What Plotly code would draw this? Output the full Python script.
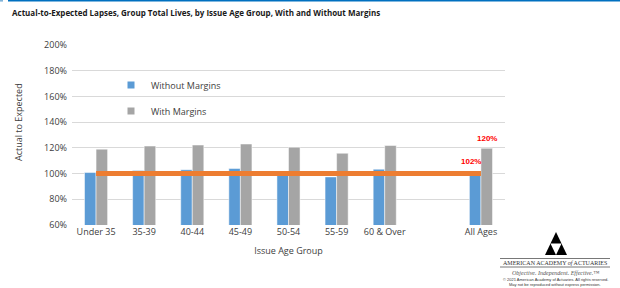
import plotly.graph_objects as go

categories = ["Under 35", "35-39", "40-44", "45-49", "50-54", "55-59", "60 & Over", " ", "All Ages"]
without_margins = [100.8, 102.3, 103.0, 103.9, 101.8, 97.4, 103.4, None, 101.8]
with_margins = [119.0, 121.4, 122.2, 123.0, 120.5, 115.8, 121.8, None, 119.7]
expected_line = [100, 100, 100, 100, 100, 100, 100, 100, 100]
label_without = ["", "", "", "", "", "", "", "", "102%"]
label_with = ["", "", "", "", "", "", "", "", "120%"]
y_ticks = [60, 80, 100, 120, 140, 160, 180, 200]
y_tick_labels = ["60%", "80%", "100%", "120%", "140%", "160%", "180%", "200%"]

W, H = 620, 288
L, R, T, B = 72, 115, 45, 63
PW, PH = W - L - R, H - T - B

def px(x):
    return (x - L) / PW

def py(y):
    return (H - B - y) / PH

BLUE = "#5B9BD5"
GRAY = "#A5A5A5"
ORANGE = "#ED7D31"
FONT = "Open Sans"

label_font = dict(color="#FF0000", size=8, family="Liberation Sans", weight="bold")

fig = go.Figure()
fig.add_trace(go.Bar(x=categories, y=without_margins, marker=dict(color=BLUE, line=dict(color="white", width=0.5)),
                     showlegend=False, name="Without Margins"))
fig.add_trace(go.Bar(x=categories, y=with_margins, marker=dict(color=GRAY, line=dict(color="white", width=0.5)),
                     showlegend=False, name="With Margins"))
fig.add_trace(go.Scatter(x=categories, y=expected_line, mode="lines", line=dict(color=ORANGE, width=5),
                         showlegend=False, hoverinfo="skip"))
# legend entries
fig.add_trace(go.Scatter(x=[None], y=[None], mode="markers", name="Without Margins",
                         marker=dict(symbol="square", size=7, color=BLUE), legend="legend"))
fig.add_trace(go.Scatter(x=[None], y=[None], mode="markers", name="With Margins",
                         marker=dict(symbol="square", size=7, color=GRAY), legend="legend2"))

legend_common = dict(bgcolor="rgba(0,0,0,0)", font=dict(family=FONT, size=9, color="#404040"),
                     itemwidth=30, xanchor="left", yanchor="middle", borderwidth=0)
shapes = [
    dict(type="line", xref="paper", yref="paper", x0=px(8), x1=px(620), y0=py(0.8), y1=py(0.8),
         line=dict(color="#0070C0", width=1.6)),
    dict(type="line", xref="paper", yref="paper", x0=px(0), x1=px(3), y0=py(0.8), y1=py(0.8),
         line=dict(color="#7FB3D9", width=1.6)),
    # logo: sierpinski-like triangle
    dict(type="path", xref="paper", yref="paper",
         path=f"M{px(556)},{py(232)} L{px(567)},{py(255)} L{px(545)},{py(255)} Z",
         fillcolor="black", line=dict(width=0)),
    dict(type="path", xref="paper", yref="paper",
         path=f"M{px(550.5)},{py(243.5)} L{px(561.5)},{py(243.5)} L{px(556)},{py(255)} Z",
         fillcolor="white", line=dict(width=0)),
    dict(type="line", xref="paper", yref="paper", x0=px(500), x1=px(610), y0=py(258.5), y1=py(258.5),
         line=dict(color="#555555", width=0.8)),
    dict(type="line", xref="paper", yref="paper", x0=px(500), x1=px(610), y0=py(267), y1=py(267),
         line=dict(color="#555555", width=0.8)),
]

annotations = [
    dict(text="<b>Actual-to-Expected Lapses, Group Total Lives, by Issue Age Group, With and Without Margins</b>",
         xref="paper", yref="paper", x=px(10), y=py(13), xanchor="left", yanchor="middle", showarrow=False,
         font=dict(family=FONT, size=8, color="#1a1a1a")),
    dict(text="Actual to Expected", xref="paper", yref="paper", x=px(18), y=py(122), textangle=-90,
         showarrow=False, xanchor="center", yanchor="middle", font=dict(family=FONT, size=9, color="#404040")),
    dict(text="AMERICAN ACADEMY <i>of</i> ACTUARIES", xref="paper", yref="paper", x=px(555), y=py(263),
         showarrow=False, xanchor="center", yanchor="middle", font=dict(family="Liberation Serif", size=6, color="#333333")),
    dict(text="<i>Objective. Independent. Effective.™</i>", xref="paper", yref="paper", x=px(555), y=py(272.5),
         showarrow=False, xanchor="center", yanchor="middle", font=dict(family="Liberation Serif", size=6, color="#555555")),
    dict(text="© 2021 American Academy of Actuaries. All rights reserved.", xref="paper", yref="paper", x=px(555), y=py(279),
         showarrow=False, xanchor="center", yanchor="middle", font=dict(family="Liberation Sans", size=4, color="#333333")),
    dict(text="May not be reproduced without express permission.", xref="paper", yref="paper", x=px(555), y=py(284),
         showarrow=False, xanchor="center", yanchor="middle", font=dict(family="Liberation Sans", size=4, color="#333333")),
]

# data labels, positioned from the data values
for cat, val, lab in zip(categories, without_margins, label_without):
    if lab:
        annotations.append(dict(text=lab, x=cat, y=val, xref="x", yref="y", xanchor="center", yanchor="bottom",
                                xshift=-10, yshift=3, showarrow=False, font=label_font))
for cat, val, lab in zip(categories, with_margins, label_with):
    if lab:
        annotations.append(dict(text=lab, x=cat, y=val, xref="x", yref="y", xanchor="center", yanchor="bottom",
                                xshift=6, yshift=3, showarrow=False, font=label_font))

fig.update_layout(
    width=W, height=H, margin=dict(l=L, r=R, t=T, b=B, autoexpand=False),
    paper_bgcolor="white", plot_bgcolor="white",
    barmode="group", bargap=0.52, bargroupgap=0,
    font=dict(family=FONT, size=9, color="#404040"),
    xaxis=dict(type="category", categoryorder="array", categoryarray=categories,
               showgrid=False, showline=False, ticks="", tickfont=dict(size=9, color="#404040"),
               title=dict(text="Issue Age Group", font=dict(size=9, color="#404040"), standoff=10)),
    yaxis=dict(range=[60, 200], tickvals=y_ticks, ticktext=y_tick_labels, showgrid=True,
               gridcolor="#D9D9D9", gridwidth=1, zeroline=False, showline=False, ticks="",
               tickfont=dict(size=9, color="#404040"), ticklabelstandoff=4),
    legend=dict(x=px(111), y=py(85), **legend_common),
    legend2=dict(x=px(111), y=py(111), **legend_common),
    shapes=shapes, annotations=annotations,
)

fig.write_html("out.html", config={"displayModeBar": False},
               post_script="document.body.style.margin='0px';")
